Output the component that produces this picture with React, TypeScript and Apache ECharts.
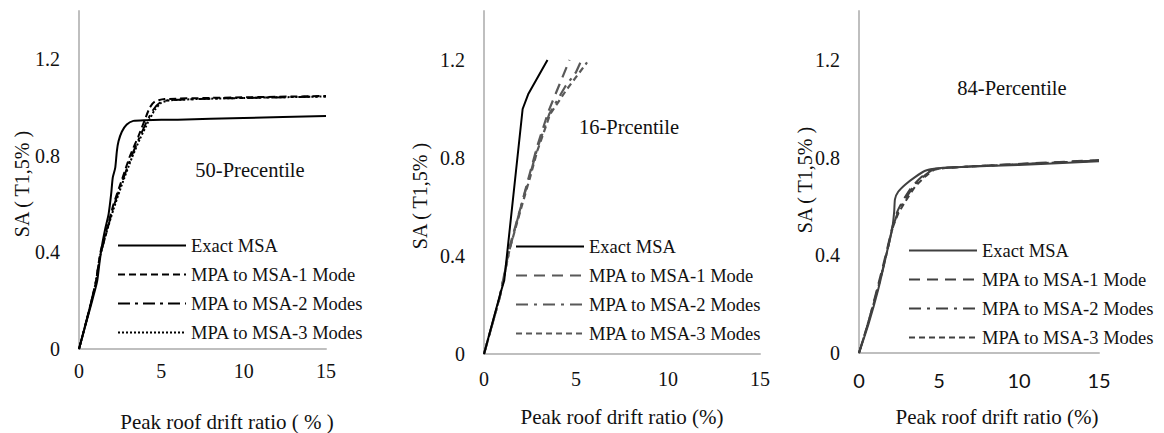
import React, { useEffect, useRef } from "react";
import * as echarts from "echarts";

const seriesNames = ["Exact MSA", "MPA to MSA-1 Mode", "MPA to MSA-2 Modes", "MPA to MSA-3 Modes"];
const xTicks = [0, 5, 10, 15];
const yTicks = [0, 0.4, 0.8, 1.2];
const panelTitles = ["50-Precentile", "16-Prcentile", "84-Percentile"];
const yTitle = "SA ( T1,5% )";
const xTitles = ["Peak roof drift ratio ( % )", "Peak roof drift ratio (%)", "Peak roof drift ratio (%)"];

// Panel 1: 50-Percentile
const exact50 = [[0,0],[0.4,0.1],[0.8,0.2],[1.1,0.28],[1.25,0.36],[1.4,0.43],[1.6,0.5],[1.8,0.56],[1.95,0.64],[2.05,0.71],[2.2,0.75],[2.3,0.82],[2.4,0.86],[2.6,0.9],[2.9,0.93],[3.3,0.945],[4,0.948],[6,0.95],[10,0.957],[15,0.965]];
const mode1_50 = [[0,0],[0.5,0.13],[1.0,0.27],[1.3,0.4],[1.7,0.5],[2.1,0.6],[2.6,0.7],[3.1,0.8],[3.6,0.88],[4.0,0.95],[4.3,1.0],[4.6,1.025],[5.2,1.035],[8,1.04],[15,1.048]];
const mode2_50 = [[0,0],[0.5,0.13],[1.0,0.27],[1.3,0.39],[1.7,0.49],[2.1,0.59],[2.6,0.69],[3.2,0.8],[3.7,0.88],[4.1,0.94],[4.5,0.99],[4.9,1.02],[5.4,1.03],[8,1.037],[15,1.046]];
const mode3_50 = [[0,0],[0.5,0.13],[1.0,0.27],[1.3,0.39],[1.7,0.49],[2.1,0.58],[2.6,0.68],[3.2,0.79],[3.7,0.87],[4.2,0.94],[4.6,0.99],[5.0,1.02],[5.5,1.03],[8,1.037],[15,1.046]];

// Panel 2: 16-Percentile
const exact16 = [[0,0],[0.9,0.25],[1.1,0.3],[1.6,0.65],[2.1,1.0],[2.4,1.06],[3.45,1.2]];
const mode1_16 = [[0,0],[0.85,0.23],[1.4,0.44],[2.0,0.6],[2.5,0.74],[2.9,0.85],[3.5,0.99],[4.1,1.1],[4.65,1.2]];
const mode2_16 = [[0,0],[0.85,0.23],[1.4,0.43],[2.0,0.6],[2.5,0.73],[2.9,0.84],[3.55,0.98],[4.4,1.09],[5.0,1.15],[5.3,1.2]];
const mode3_16 = [[0,0],[0.85,0.23],[1.4,0.43],[2.0,0.59],[2.5,0.72],[2.9,0.83],[3.6,0.98],[4.5,1.08],[5.6,1.19]];

// Panel 3: 84-Percentile
const exact84 = [[0,0],[0.6,0.12],[1.2,0.26],[1.7,0.4],[2.1,0.52],[2.2,0.58],[2.25,0.63],[2.45,0.66],[2.9,0.69],[3.5,0.72],[4.1,0.745],[4.8,0.755],[6,0.76],[10,0.77],[15,0.785]];
const mode1_84 = [[0,0],[0.6,0.13],[1.2,0.28],[1.7,0.41],[2.1,0.52],[2.4,0.58],[2.8,0.63],[3.3,0.68],[3.9,0.72],[4.5,0.75],[5.2,0.757],[8,0.768],[15,0.79]];
const mode2_84 = [[0,0],[0.6,0.13],[1.2,0.27],[1.7,0.4],[2.1,0.51],[2.4,0.57],[2.8,0.62],[3.4,0.68],[4.0,0.72],[4.6,0.75],[5.3,0.757],[8,0.767],[15,0.788]];
const mode3_84 = [[0,0],[0.6,0.13],[1.2,0.27],[1.7,0.4],[2.1,0.51],[2.45,0.57],[2.9,0.62],[3.5,0.68],[4.1,0.72],[4.7,0.75],[5.4,0.757],[8,0.767],[15,0.787]];

const panelData = [
  [exact50, mode1_50, mode2_50, mode3_50],
  [exact16, mode1_16, mode2_16, mode3_16],
  [exact84, mode1_84, mode2_84, mode3_84],
];

const SERIF = "Liberation Serif";
const SANS = "Lato";

const grids = [
  { left: 79, top: 11, width: 247, height: 338 },
  { left: 484, top: 11, width: 276, height: 343 },
  { left: 859, top: 11, width: 240, height: 342 },
];
const xLabelMargins = [12, 15, 17];
const xLabelFonts = [SERIF, SERIF, SANS];

const styles = [
  [
    { color: "#000", type: "solid" as any, width: 2 },
    { color: "#000", type: [7, 4], width: 2 },
    { color: "#000", type: [12, 5, 3, 5], width: 2 },
    { color: "#000", type: [2, 2], width: 2 },
  ],
  [
    { color: "#000", type: "solid" as any, width: 2 },
    { color: "#595959", type: [11, 7], width: 2.2 },
    { color: "#595959", type: [12, 6, 3, 6], width: 2.2 },
    { color: "#595959", type: [6, 4], width: 2.2 },
  ],
  [
    { color: "#404040", type: "solid" as any, width: 2 },
    { color: "#404040", type: [11, 7], width: 2 },
    { color: "#404040", type: [12, 6, 3, 6], width: 2 },
    { color: "#404040", type: [6, 4], width: 2 },
  ],
];

const legendPos = [
  { left: 117, top: 236 },
  { left: 515, top: 237 },
  { left: 908, top: 241 },
];

export default function App() {
  const ref = useRef<HTMLDivElement>(null);
  useEffect(() => {
    if (!ref.current) return;
    const chart = echarts.init(ref.current, undefined, { renderer: "svg" });

    const xAxis = grids.map((_, i) => ({
      type: "value",
      gridIndex: i,
      min: 0,
      max: 15,
      interval: 5,
      splitLine: { show: false },
      axisTick: { show: false },
      axisLine: { show: true, lineStyle: { color: "#bfbfbf", width: 2 } },
      axisLabel: {
        color: "#111",
        fontSize: 20,
        fontFamily: xLabelFonts[i],
        margin: xLabelMargins[i],
        formatter: (v: number) => (xTicks.includes(v) ? String(v) : ""),
      },
    }));
    const yAxis = grids.map((_, i) => ({
      type: "value",
      gridIndex: i,
      min: 0,
      max: 1.4,
      interval: 0.4,
      splitLine: { show: false },
      axisTick: { show: false },
      axisLine: { show: true, lineStyle: { color: "#bfbfbf", width: 2 } },
      axisLabel: {
        color: "#111",
        fontSize: 20,
        fontFamily: SERIF,
        margin: 19,
        showMaxLabel: false,
        formatter: (v: number) => {
          const t = yTicks.find((k) => Math.abs(k - v) < 1e-6);
          return t === undefined ? "" : String(t);
        },
      },
    }));

    const series: any[] = [];
    panelData.forEach((sets, p) => {
      sets.forEach((d, s) => {
        series.push({
          type: "line",
          name: seriesNames[s] + "|" + p,
          xAxisIndex: p,
          yAxisIndex: p,
          data: d,
          symbol: "none",
          showSymbol: false,
          smooth: p === 1 ? false : 0.2,
          z: 10 - s,
          lineStyle: styles[p][s],
          itemStyle: { color: styles[p][s].color },
        });
      });
    });

    const legend = legendPos.map((pos, p) => ({
      orient: "vertical",
      left: pos.left,
      top: pos.top,
      padding: 0,
      itemWidth: 68,
      itemHeight: 1,
      itemGap: 10,
      selectedMode: false,
      data: seriesNames.map((n) => n + "|" + p),
      formatter: (name: string) => name.split("|")[0],
      textStyle: { fontSize: 18.5, fontFamily: SERIF, color: "#111", lineHeight: 18 },
    }));

    const textStyle = (size: number) => ({
      fill: "#111",
      fontSize: size,
      fontFamily: SERIF,
      align: "center",
      verticalAlign: "middle",
    });

    const graphic: any[] = [
      { type: "text", x: 250, y: 170, style: { text: panelTitles[0], ...textStyle(20.5) } },
      { type: "text", x: 629, y: 127, style: { text: panelTitles[1], ...textStyle(20.5) } },
      { type: "text", x: 1012, y: 88, style: { text: panelTitles[2], ...textStyle(20.5) } },
      { type: "text", x: 22, y: 184, rotation: Math.PI / 2, style: { text: yTitle, ...textStyle(20) } },
      { type: "text", x: 420, y: 196, rotation: Math.PI / 2, style: { text: yTitle, ...textStyle(20) } },
      { type: "text", x: 805, y: 180, rotation: Math.PI / 2, style: { text: yTitle, ...textStyle(20) } },
      { type: "text", x: 227, y: 422, style: { text: xTitles[0], ...textStyle(21) } },
      { type: "text", x: 622, y: 417, style: { text: xTitles[1], ...textStyle(21) } },
      { type: "text", x: 997, y: 417, style: { text: xTitles[2], ...textStyle(21) } },
    ];

    chart.setOption({
      animation: false,
      backgroundColor: "#fff",
      grid: grids,
      xAxis,
      yAxis,
      legend,
      series,
      graphic,
    });
    return () => chart.dispose();
  }, []);
  return (
    <div
      ref={ref}
      style={{ position: "absolute", left: 0, top: 0, width: 1164, height: 433 }}
    />
  );
}
